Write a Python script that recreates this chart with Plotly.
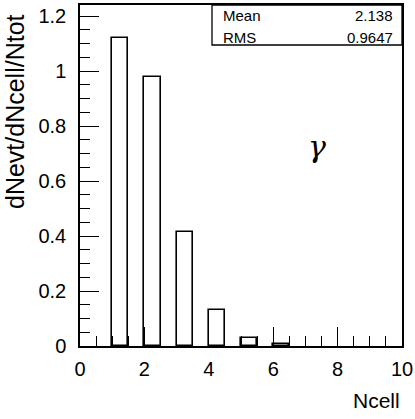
import plotly.graph_objects as go

bin_left = [1, 2, 3, 4, 5, 6]
values = [1.12, 0.98, 0.415, 0.13, 0.03, 0.006]
bin_width = 0.5
stats_names = ["Mean", "RMS"]
stats_vals = ["2.138", "0.9647"]

L, R, T, B = 80, 13, 5, 73
W, H = 415, 419
pw, ph = W - L - R, H - T - B

def px(xp):
    return (xp - L) / pw

def py(yp):
    return (H - B - yp) / ph

fig = go.Figure()
fig.add_trace(go.Bar(
    x=bin_left, y=values, width=bin_width, offset=0,
    marker=dict(color="white", line=dict(color="black", width=1.6)),
    showlegend=False, hoverinfo="skip",
))

font = dict(family="Liberation Sans, Arial, sans-serif", color="black")

fig.update_xaxes(range=[0, 10], dtick=2, tick0=0, ticks="inside", ticklen=19,
                 tickwidth=1.3, tickcolor="black", showline=True, linecolor="black",
                 linewidth=1.5, mirror=True, showgrid=False, zeroline=False,
                 automargin=False, ticklabelstandoff=4,
                 tickfont=dict(size=20, **font),
                 minor=dict(dtick=0.5, ticks="inside", ticklen=10, tickwidth=1.3,
                            tickcolor="black", showgrid=False))
fig.update_yaxes(range=[0, 1.24], dtick=0.2, tick0=0, ticks="inside", ticklen=19,
                 tickwidth=1.3, tickcolor="black", showline=True, linecolor="black",
                 linewidth=1.5, mirror=True, showgrid=False, zeroline=False,
                 automargin=False, ticklabelstandoff=8,
                 tickfont=dict(size=20, **font),
                 minor=dict(dtick=0.05, ticks="inside", ticklen=10, tickwidth=1.3,
                            tickcolor="black", showgrid=False))

annotations = [
    dict(text="dNevt/dNcell/Ntot", xref="paper", yref="paper", x=px(15), y=py(112),
         textangle=-90, showarrow=False, font=dict(size=25, **font),
         xanchor="center", yanchor="middle"),
    dict(text="Ncell", xref="paper", yref="paper", x=px(376), y=py(400),
         showarrow=False, font=dict(size=21, **font), xanchor="center", yanchor="middle"),
    dict(text="<i>γ</i>", xref="paper", yref="paper", x=px(317), y=py(146),
         showarrow=False, font=dict(size=30, family="DejaVu Serif, serif", color="black"),
         xanchor="center", yanchor="middle"),
]
for i, (n, v) in enumerate(zip(stats_names, stats_vals)):
    yy = 16 + 21 * i
    annotations.append(dict(text=n, xref="paper", yref="paper", x=px(221), y=py(yy),
                            showarrow=False, font=dict(size=15, **font),
                            xanchor="left", yanchor="middle"))
    annotations.append(dict(text=v, xref="paper", yref="paper", x=px(395), y=py(yy),
                            showarrow=False, font=dict(size=15, **font),
                            xanchor="right", yanchor="middle"))

fig.update_layout(
    width=W, height=H, margin=dict(l=L, r=R, t=T, b=B),
    paper_bgcolor="white", plot_bgcolor="white",
    annotations=annotations, bargap=0,
    shapes=[dict(type="rect", xref="paper", yref="paper", x0=px(212), x1=1,
                 y0=py(45), y1=1, line=dict(color="black", width=1.3),
                 fillcolor="white", layer="above")],
)

fig.write_html("out.html", config={"displayModeBar": False},
               post_script="document.body.style.margin='0';document.body.style.padding='0';")
